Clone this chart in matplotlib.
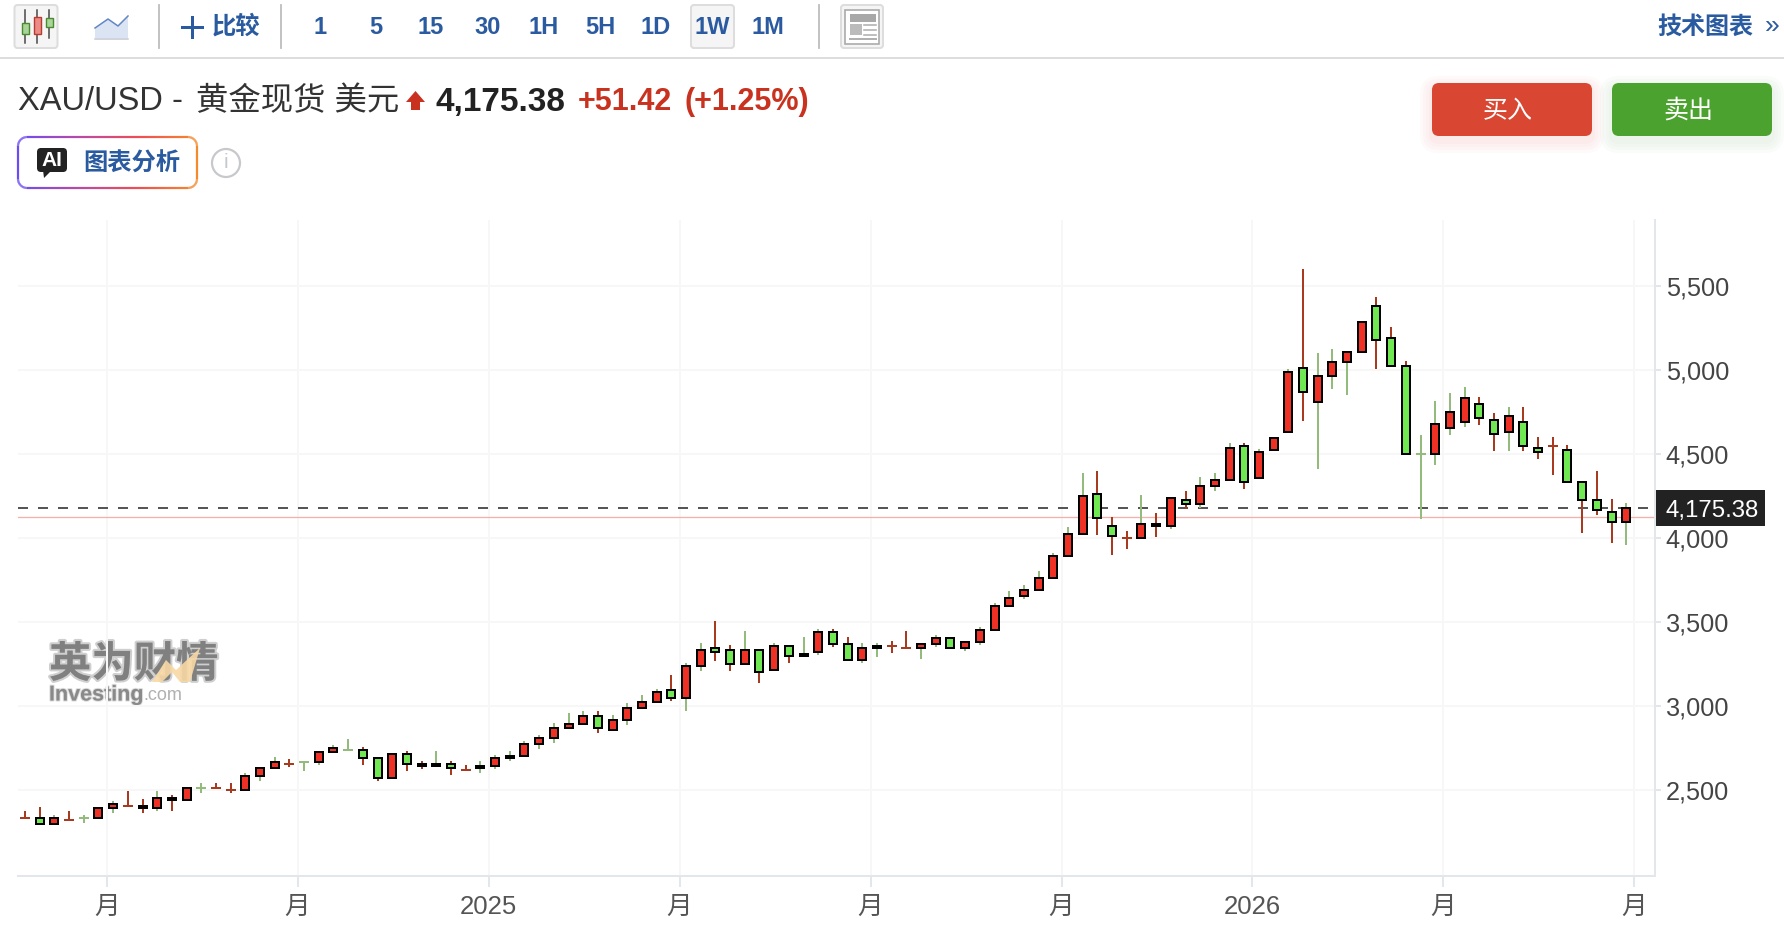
# weekly XAU/USD candles with the quote page header around them
import numpy as np
import matplotlib
matplotlib.use("Agg")
import matplotlib.pyplot as plt
from matplotlib.collections import LineCollection
from matplotlib.colors import LinearSegmentedColormap
from matplotlib.patches import FancyBboxPatch, Rectangle, Polygon, Circle
import matplotlib.patheffects as pe

plt.rcParams['font.family'] = ['Liberation Sans', 'Noto Sans CJK SC', 'DejaVu Sans']

opens = [2334, 2332, 2296, 2320, 2332, 2332, 2391, 2403, 2403, 2391,
         2451, 2439, 2510, 2510, 2498, 2498, 2582, 2629, 2653, 2665,
         2665, 2724, 2736, 2736, 2689, 2570, 2713, 2653, 2641, 2653,
         2617, 2629, 2641, 2689, 2701, 2772, 2808, 2867, 2891, 2939,
         2855, 2915, 2986, 3022, 3093, 3046, 3236, 3343, 3332, 3248,
         3332, 3212, 3355, 3296, 3320, 3439, 3367, 3272, 3343, 3355,
         3343, 3343, 3367, 3403, 3343, 3379, 3451, 3593, 3653, 3689,
         3760, 3891, 4022, 4260, 4070, 3998, 3998, 4082, 4070, 4224,
         4201, 4308, 4343, 4546, 4355, 4522, 4629, 5010, 4808, 4962,
         5046, 5105, 5379, 5189, 5022, 4498, 4498, 4653, 4689, 4796,
         4701, 4629, 4689, 4534, 4546, 4522, 4332, 4225, 4153, 4094]
highs = [2373, 2397, 2349, 2373, 2349, 2391, 2433, 2492, 2445, 2492,
         2469, 2510, 2540, 2540, 2540, 2599, 2629, 2695, 2683, 2671,
         2724, 2766, 2802, 2754, 2689, 2713, 2730, 2671, 2730, 2671,
         2647, 2671, 2707, 2730, 2790, 2826, 2897, 2956, 2968, 2968,
         2945, 3016, 3064, 3099, 3183, 3254, 3373, 3504, 3361, 3445,
         3332, 3373, 3355, 3409, 3457, 3457, 3409, 3373, 3373, 3385,
         3445, 3367, 3421, 3403, 3379, 3468, 3611, 3683, 3718, 3802,
         3909, 4064, 4385, 4397, 4123, 4040, 4254, 4147, 4236, 4278,
         4361, 4385, 4564, 4564, 4528, 4593, 5004, 5599, 5099, 5123,
         5105, 5284, 5433, 5254, 5052, 4611, 4814, 4861, 4897, 4837,
         4742, 4778, 4778, 4599, 4599, 4552, 4332, 4397, 4230, 4207]
lows = [2332, 2296, 2296, 2318, 2302, 2332, 2361, 2400, 2361, 2373,
        2373, 2439, 2480, 2504, 2480, 2498, 2552, 2629, 2635, 2611,
        2647, 2724, 2732, 2647, 2552, 2570, 2611, 2623, 2641, 2588,
        2613, 2599, 2623, 2671, 2701, 2742, 2778, 2867, 2891, 2837,
        2855, 2885, 2986, 3022, 3028, 2968, 3207, 3266, 3207, 3248,
        3135, 3212, 3254, 3296, 3302, 3349, 3272, 3254, 3290, 3314,
        3340, 3278, 3349, 3343, 3326, 3361, 3451, 3593, 3635, 3689,
        3760, 3891, 4022, 4016, 3897, 3933, 3998, 4004, 4052, 4171,
        4177, 4278, 4343, 4290, 4355, 4522, 4629, 4695, 4409, 4885,
        4849, 5105, 5004, 5022, 4498, 4111, 4433, 4611, 4659, 4671,
        4516, 4516, 4516, 4469, 4373, 4332, 4028, 4135, 3969, 3957]
closes = [2334, 2296, 2332, 2320, 2332, 2391, 2415, 2403, 2391, 2451,
          2439, 2510, 2510, 2510, 2498, 2582, 2629, 2665, 2653, 2665,
          2724, 2748, 2736, 2689, 2570, 2713, 2653, 2641, 2653, 2629,
          2617, 2641, 2689, 2701, 2772, 2808, 2867, 2891, 2939, 2867,
          2915, 2986, 3022, 3081, 3046, 3236, 3332, 3320, 3248, 3332,
          3201, 3355, 3296, 3308, 3439, 3367, 3272, 3343, 3355, 3355,
          3343, 3367, 3403, 3343, 3379, 3451, 3593, 3641, 3689, 3760,
          3891, 4022, 4248, 4117, 4010, 3998, 4082, 4070, 4236, 4201,
          4308, 4343, 4534, 4331, 4510, 4593, 4986, 4867, 4962, 5046,
          5105, 5284, 5177, 5022, 4498, 4498, 4677, 4748, 4831, 4712,
          4617, 4725, 4546, 4510, 4546, 4332, 4225, 4165, 4094, 4175.38]
# open == close weeks drawn with the green stem, all other flat weeks are red
flat_green = [4, 12, 19, 22, 95]

last_price = 4175.38
prev_close = 4123.96

price_ticks = [2500, 3000, 3500, 4000, 4500, 5000, 5500]
price_labels = ['2,500', '3,000', '3,500', '4,000', '4,500', '5,000', '5,500']
time_ticks = [5.56, 18.56, 31.56, 44.56, 57.56, 70.56, 83.56, 96.56, 109.56]
time_labels = ['月', '月', '2025', '月', '月', '月', '2026', '月', '月']
intervals = ['1', '5', '15', '30', '1H', '5H', '1D', '1W', '1M']
interval_x = [320, 375.5, 431, 488, 544, 600, 656, 712, 768]

W, H = 1784, 942
PX = 0.72  # one pixel in points at dpi 100
BLUE = '#2a5aa0'
RED_TEXT = '#c8321e'
UP_FILL, DOWN_FILL = '#ee3124', '#6fe852'
RED_WICK, GREEN_WICK = '#a83a1f', '#93bc7c'
GRID = '#f7f7f8'
AXIS = '#e2e7ec'

fig = plt.figure(figsize=(W / 100, H / 100), dpi=100, facecolor='white')
ui = fig.add_axes([0, 0, 1, 1], zorder=0)
ui.set_xlim(0, W)
ui.set_ylim(H, 0)
ui.axis('off')


def round_box(x0, y0, x1, y1, r, face, edge='none', lw=0, alpha=None, z=2):
    box = FancyBboxPatch((x0, y0), x1 - x0, y1 - y0,
                         boxstyle=f'round,pad=0,rounding_size={r}',
                         fc=face, ec=edge, lw=lw * PX, alpha=alpha, zorder=z)
    ui.add_patch(box)


def gradient_border(x0, y0, x1, y1, r):
    # rounded outline split in short pieces, coloured left to right
    corners = [(x1 - r, y0 + r, -90), (x1 - r, y1 - r, 0), (x0 + r, y1 - r, 90), (x0 + r, y0 + r, 180)]
    pts = []
    for cx, cy, start in corners:
        a = np.radians(np.linspace(start, start + 90, 12))
        pts.append(np.column_stack([cx + r * np.cos(a), cy + r * np.sin(a)]))
    pts.append(pts[0][:1])
    pts = np.vstack(pts)
    fine = []
    for p, q in zip(pts[:-1], pts[1:]):
        n = max(2, int(np.hypot(*(q - p)) / 2))
        fine.append(np.linspace(p, q, n, endpoint=False))
    fine = np.vstack(fine + [pts[-1:]])
    segs = np.stack([fine[:-1], fine[1:]], axis=1)
    cmap = LinearSegmentedColormap.from_list('edge', ['#6a4cf5', '#b84aa8', '#ee4d55', '#f58a2a'])
    lc = LineCollection(segs, cmap=cmap, linewidths=2.2 * PX, zorder=3)
    lc.set_array((segs[:, 0, 0] - x0) / (x1 - x0))
    ui.add_collection(lc)


# toolbar
round_box(14.5, 5, 57.5, 48, 3, '#f5f5f5', '#dddddd', 2)
for sx, top, bot in [(25, 10, 43), (37, 10, 43), (49, 10, 38)]:
    ui.plot([sx, sx], [top, bot], color='#444444', lw=1.5 * PX, zorder=3)
ui.add_patch(Rectangle((21.5, 23), 7, 11, fc='#a9d49a', ec='#4a8a30', lw=1.4 * PX, zorder=4))
ui.add_patch(Rectangle((33.5, 17), 7, 17, fc='#ec8d85', ec='#b83a30', lw=1.4 * PX, zorder=4))
ui.add_patch(Rectangle((45.5, 18), 7, 9, fc='#a9d49a', ec='#4a8a30', lw=1.4 * PX, zorder=4))
ui.add_patch(Polygon([(95, 28), (108, 19), (118, 26), (128, 16), (128, 38), (95, 38)], fc='#dbe4f3', ec='none', zorder=3))
ui.plot([95, 108, 118, 128], [28, 19, 26, 16], color='#5f86c6', lw=1.5 * PX, zorder=4)
ui.plot([95, 128], [38.5, 38.5], color='#c2c8d0', lw=1.5 * PX, zorder=4)
for sx in [159, 281, 819]:
    ui.plot([sx, sx], [5, 48], color='#bdbdbd', lw=1.8 * PX, zorder=2)
ui.plot([0, W], [57.5, 57.5], color='#dddddd', lw=2 * PX, zorder=2)
ui.plot([192, 192], [17, 37], color=BLUE, lw=3 * PX, zorder=3)
ui.plot([182, 202], [27, 27], color=BLUE, lw=3 * PX, zorder=3)
ui.text(236, 27, '比较', fontsize=17.5, fontweight='bold', color=BLUE, ha='center', va='center')
round_box(691, 5, 734, 48, 3, '#f5f5f5', '#dddddd', 2)
for label, tx in zip(intervals, interval_x):
    ui.text(tx, 27, label, fontsize=17, fontweight='bold', color=BLUE, ha='center', va='center', zorder=4)
round_box(841, 5, 883, 48, 3, '#f5f5f5', '#dddddd', 2)
ui.add_patch(Rectangle((844.5, 9.5), 34, 34, fc='white', ec='#a8a8a8', lw=1.6 * PX, zorder=3))
ui.add_patch(Rectangle((850, 14), 26, 7.5, fc='#a8a8a8', zorder=4))
ui.add_patch(Rectangle((850, 23.5), 12, 11.5, fc='#bbbbbb', zorder=4))
for ly in [25, 30, 34.5]:
    ui.plot([864, 876], [ly, ly], color='#b0b0b0', lw=1.6 * PX, zorder=4)
ui.plot([850, 876], [38.5, 38.5], color='#b0b0b0', lw=2 * PX, zorder=4)
ui.text(1705, 27, '技术图表', fontsize=17.3, fontweight='bold', color=BLUE, ha='center', va='center')
ui.text(1772, 26, '»', fontsize=19, color=BLUE, ha='center', va='center')

# quote line
ui.text(18, 102, 'XAU/USD -', fontsize=23.5, color='#333333', ha='left', va='center')
ui.text(196, 102, '黄金现货 美元', fontsize=23.3, color='#333333', ha='left', va='center')
ui.add_patch(Polygon([(415.5, 91), (425, 102), (420, 102), (420, 110), (411, 110), (411, 102), (406, 102)],
                     fc=RED_TEXT, zorder=3))
ui.text(435, 102, '4,175.38', fontsize=24, fontweight='bold', color='#222222', ha='left', va='center')
ui.text(578, 102, '+51.42', fontsize=22, fontweight='bold', color=RED_TEXT, ha='left', va='center')
ui.text(684, 102, '(+1.25%)', fontsize=22, fontweight='bold', color=RED_TEXT, ha='left', va='center')

# buy and sell buttons with a soft shadow
for x0, x1, face, label, tx in [(1432, 1592, '#d94632', '买入', 1508), (1612, 1772, '#4ca22e', '卖出', 1688.5)]:
    for grow in [12, 9, 6, 3]:
        round_box(x0 - grow, 83 + 5 - grow, x1 + grow, 136 + 5 + grow, 7 + grow, face, alpha=0.025, z=1)
    round_box(x0, 83, x1, 136, 7, face)
    ui.text(tx, 111, label, fontsize=18, color='white', ha='center', va='center', zorder=4)

# AI analysis button
round_box(18, 137, 197, 188, 9, 'white', z=2)
gradient_border(18, 137, 197, 188, 9)
round_box(37, 148, 67, 172, 4, '#222222', z=3)
ui.add_patch(Polygon([(43, 170), (52, 170), (44, 178)], fc='#222222', zorder=3))
ui.text(52, 161, 'AI', fontsize=15, fontweight='bold', color='white', ha='center', va='center', zorder=4)
ui.text(132, 164, '图表分析', fontsize=17.5, fontweight='bold', color=BLUE, ha='center', va='center', zorder=4)
ui.add_patch(Circle((226, 163), 14, fc='white', ec='#c6c8cc', lw=2.2 * PX, zorder=3))
ui.text(226, 163, 'i', fontsize=15, color='#c6c8cc', ha='center', va='center', zorder=4)

# watermark, slightly smeared
soft = [pe.withStroke(linewidth=3, foreground='#a8a8a8', alpha=0.55)]
ui.text(49, 666, '英为财情', fontsize=30.5, fontweight='black', color='#808080', ha='left', va='center',
        path_effects=soft, zorder=1)
ui.add_patch(Polygon([(152, 682), (166, 660), (176, 670), (200, 648), (190, 682), (180, 682), (172, 672), (162, 682)],
                     fc='#f8d9a4', ec='none', alpha=0.9, zorder=1.5))
ui.text(49, 695, 'Investing', fontsize=15.5, fontweight='bold', color='#8a8a8a', ha='left', va='center',
        path_effects=[pe.withStroke(linewidth=1.5, foreground='#bdbdbd', alpha=0.5)], zorder=2)
ui.text(143, 696, '.com', fontsize=13, color='#b0b0b0', ha='left', va='center', zorder=2)

# price chart
left, right, top, bottom = 18, 1654.7, 220, 876
ax = fig.add_axes([left / W, (H - bottom) / H, (right - left) / W, (bottom - top) / H], zorder=1)
ax.patch.set_alpha(0)
ax.set_xlim(-0.476, 110.94)
ax.set_ylim(1986.4, 5891)

idx = np.arange(len(opens))
o = np.array(opens, dtype=float)
c = np.array(closes, dtype=float)
unit = 1 / 14.69  # one pixel in candle units
flat = o == c
up = c > o
wick_colors = []
for i in idx:
    if flat[i]:
        wick_colors.append(GREEN_WICK if i in flat_green else RED_WICK)
    else:
        wick_colors.append(GREEN_WICK if up[i] else RED_WICK)

ax.vlines(idx, lows, highs, colors=wick_colors, linewidths=2 * PX, zorder=3)
ax.hlines(o[flat], idx[flat] - 5 * unit, idx[flat] + 5 * unit, colors=np.array(wick_colors)[flat],
          linewidths=2 * PX, zorder=3)
ax.bar(idx[~flat], np.abs(c - o)[~flat], bottom=np.minimum(o, c)[~flat], width=8 * unit,
       color=[UP_FILL if u else DOWN_FILL for u in up[~flat]], edgecolor='black', linewidth=2 * PX, zorder=4)

ax.axhline(prev_close, color='#f6b0ac', lw=1.3 * PX, zorder=2)
ax.axhline(last_price, color='#444444', lw=1.8 * PX, dashes=(10 / 1.8, 10 / 1.8), zorder=2)

ax.set_yticks(price_ticks, price_labels)
ax.set_xticks(time_ticks, time_labels)
ax.yaxis.tick_right()
ax.tick_params(axis='y', length=6 * PX, width=2 * PX, color=AXIS, labelsize=18.2, labelcolor='#444444', pad=3.5)
ax.tick_params(axis='x', length=11 * PX, width=2 * PX, color=AXIS, labelsize=18.5, labelcolor='#555555', pad=6)
ax.grid(True, color=GRID, lw=2 * PX)
ax.set_axisbelow(True)
for side in ['top', 'left']:
    ax.spines[side].set_visible(False)
for side in ['bottom', 'right']:
    ax.spines[side].set_color(AXIS)
    ax.spines[side].set_linewidth(2 * PX)

# last price tag on the scale
tag_y = top + (5891 - last_price) / (5891 - 1986.4) * (bottom - top)
ui.add_patch(Rectangle((1654, tag_y - 18), 111, 36, fc='#222222', zorder=5))
ui.text(1666, tag_y + 3, f'{last_price:,.2f}', fontsize=17.3, color='white', ha='left', va='center', zorder=6)

fig.savefig('out.png', dpi=100, facecolor='white')
